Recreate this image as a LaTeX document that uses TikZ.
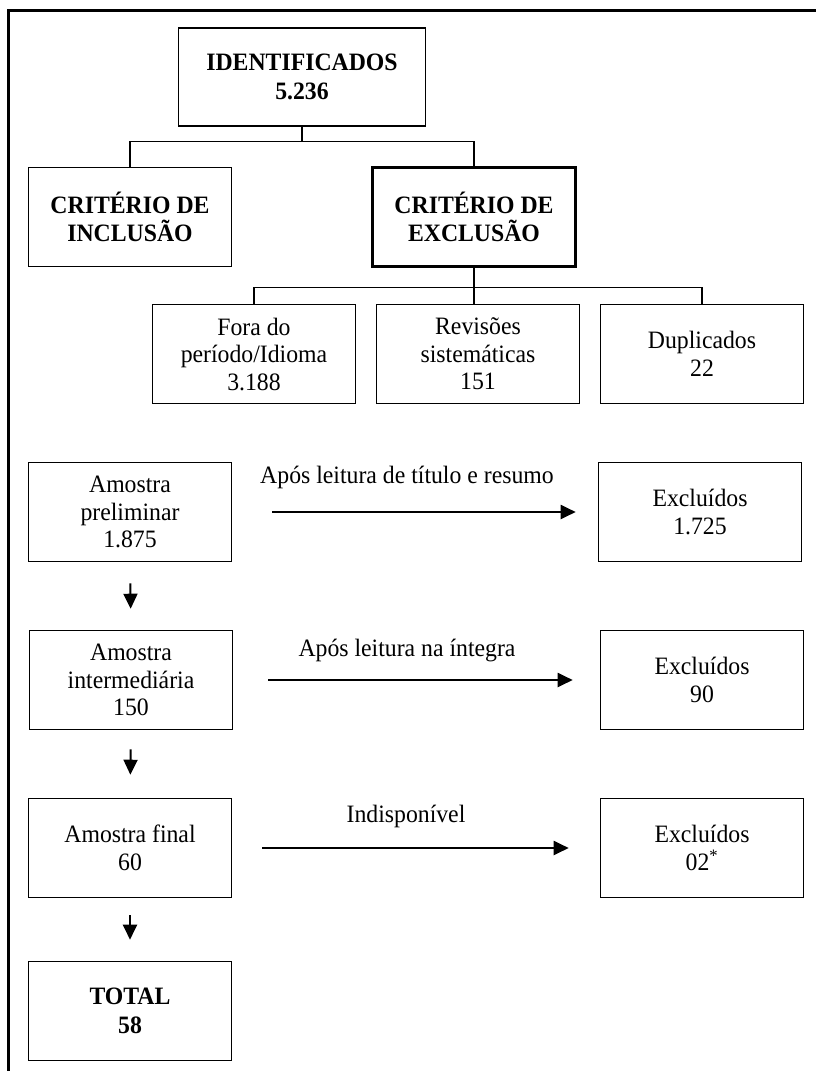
\documentclass[tikz,border=0pt]{standalone}
\usepackage{fontspec}
\setmainfont{Liberation Serif}[FakeStretch=0.95]
\usetikzlibrary{arrows.meta}

\begin{document}
\begin{tikzpicture}[x=1pt, y=-1pt,
    box/.style={draw, line width=1.6pt, minimum width=203pt, minimum height=99pt,
      align=center, inner sep=0pt, font=\fontsize{25}{27.5}\selectfont},
    boldbox/.style={box, font=\fontsize{25}{28.5}\selectfont\bfseries},
    tree/.style={line width=1.3pt},
    flow/.style={line width=2pt, -{Triangle[length=15pt, width=14pt]}},
    lbl/.style={font=\fontsize{25}{27.5}\selectfont, inner sep=0pt}]
    \useasboundingbox (0,0) rectangle (816,1071);

    %% open frame (top + left only)
    \draw[line width=3pt] (8,1071) -- (8,10) -- (816,10);

    %% top of the tree
    \node[boldbox, minimum width=247pt, minimum height=98pt] (ident) at (302,77)
      {IDENTIFICADOS\\5.236};
    \node[boldbox] (incl) at (130,217) {CRITÉRIO DE\\INCLUSÃO};
    \node[boldbox, line width=2.4pt] (excl) at (474,217) {CRITÉRIO DE\\EXCLUSÃO};

    \node[box] (fora) at (254,354) {Fora do\\período/Idioma\\3.188};
    \node[box] (revis) at (478,354) {Revisões\\sistemáticas\\151};
    \node[box] (dupl) at (702,354) {Duplicados\\22};

    \draw[tree] (ident.south) -- ++(0,15) coordinate (bar1);
    \draw[tree] (incl.north) |- (bar1) -| (excl.north);
    \draw[tree] (excl.south) -- (excl.south |- revis.north);
    \draw[tree] (excl.south) ++(0,20) coordinate (bar2);
    \draw[tree] (fora.north) |- (bar2) -| (dupl.north);

    %% samples (left) and exclusions (right)
    \node[box] (prelim) at (130,512) {Amostra\\preliminar\\1.875};
    \node[box] (inter) at (131,680) {Amostra\\intermediária\\150};
    \node[box] (final) at (130,848) {Amostra final\\60};
    \node[boldbox] (total) at (130,1011) {TOTAL\\58};

    \node[box] (exc1) at (700,512) {Excluídos\\1.725};
    \node[box] (exc2) at (702,680) {Excluídos\\90};
    \node[box] (exc3) at (702,848) {Excluídos\\02\textsuperscript{*}};

    \node[lbl] (lab1) at (407,477) {Após leitura de título e resumo};
    \node[lbl] (lab2) at (407,650) {Após leitura na íntegra};
    \node[lbl] (lab3) at (406,816) {Indisponível};

    \draw[flow, shorten <=40pt, shorten >=22pt] (prelim.east) -- (exc1.west);
    \draw[flow, shorten <=35pt, shorten >=27pt] (inter.east) -- (exc2.west);
    \draw[flow, shorten <=30pt, shorten >=31pt] (final.east) -- (exc3.west);

    \draw[flow, shorten <=21pt, shorten >=21pt] (prelim.south) -- (inter.north);
    \draw[flow, shorten <=19pt, shorten >=23pt] (inter.south) -- (final.north);
    \draw[flow, shorten <=17pt, shorten >=21pt] (final.south) -- (total.north);
  \end{tikzpicture}
\end{document}
